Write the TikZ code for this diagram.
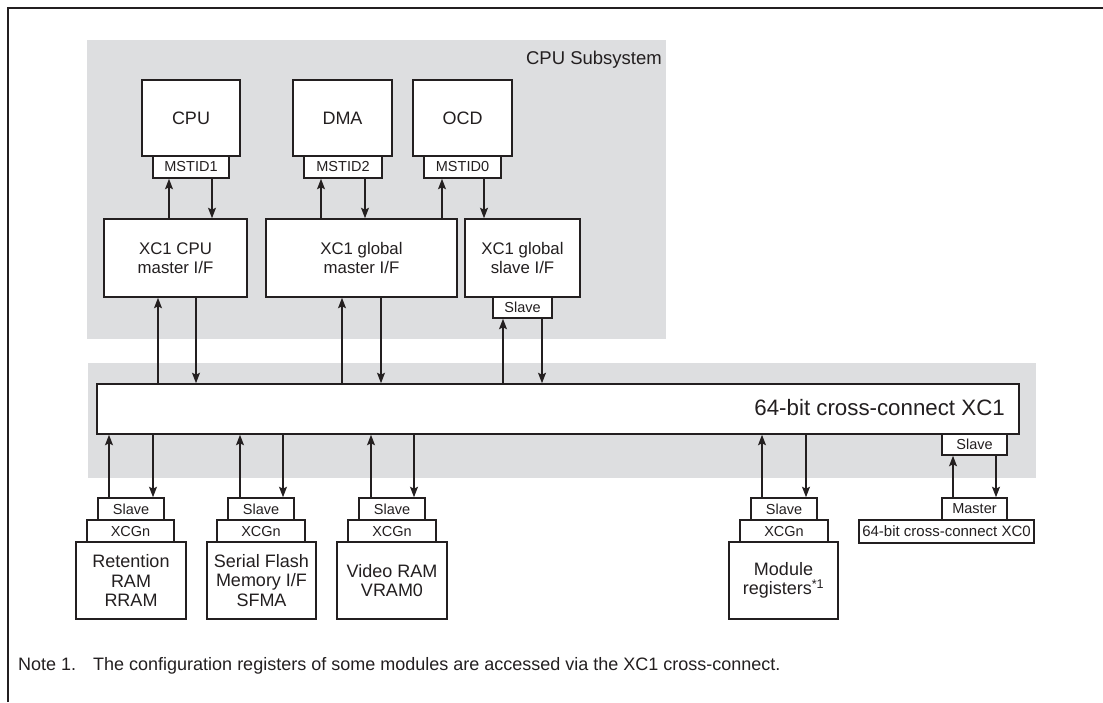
\documentclass[tikz,border=0pt]{standalone}
\usepackage{fontspec}
\setmainfont{Liberation Sans}
\usetikzlibrary{arrows.meta}
\definecolor{grayfill}{HTML}{DDDEE0}
\definecolor{ink}{HTML}{231F20}
\tikzset{
  blk/.style={draw=ink, fill=white, line width=1.6pt, inner sep=0pt, align=center, text=ink},
  big/.style={font=\fontsize{18}{19.5}\selectfont},
  mid/.style={font=\fontsize{16.8}{19}\selectfont},
  tag/.style={font=\fontsize{14.5}{15}\selectfont},
  arr/.style={draw=ink, line width=1.2pt, -{Stealth[length=10.5pt,width=8pt,inset=2pt]}},
  grp/.style={fill=grayfill, draw=none, inner sep=0pt},
  lbl/.style={inner sep=0pt, text=ink},
}
\begin{document}
\begin{tikzpicture}[x=1pt,y=-1pt]
\useasboundingbox (0,0) rectangle (1103,702);
% frame
\draw[ink, line width=2.5pt] (8,702) -- (8,8) -- (1103,8);
% grey groups
\node[grp, minimum width=579pt, minimum height=299pt] (sub) at (376.5,189.5) {};
\node[grp, minimum width=948pt, minimum height=115pt] (busg) at (562,420.5) {};
\node[lbl, anchor=base east, font=\fontsize{18.5}{20}\selectfont] (sublbl) at (662,64.5) {CPU Subsystem};
% masters
\node[blk,big,minimum width=98pt,minimum height=76pt] (cpu) at (191,118) {CPU};
\node[blk,tag,minimum width=76pt,minimum height=22pt] (m1) at (191,167) {MSTID1};
\node[blk,big,minimum width=99pt,minimum height=76pt] (dma) at (342.5,118) {DMA};
\node[blk,tag,minimum width=78pt,minimum height=22pt] (m2) at (343,167) {MSTID2};
\node[blk,big,minimum width=99pt,minimum height=76pt] (ocd) at (462.5,118) {OCD};
\node[blk,tag,minimum width=77pt,minimum height=22pt] (m0) at (462.5,167) {MSTID0};
% interfaces
\node[blk,mid,minimum width=143pt,minimum height=78pt] (cpuif) at (175.5,258) {XC1 CPU\\master I/F};
\node[blk,mid,minimum width=191pt,minimum height=78pt] (gmif) at (361.5,258) {XC1 global\\master I/F};
\node[blk,mid,minimum width=115pt,minimum height=78pt] (gsif) at (522.5,258) {XC1 global\\slave I/F};
\node[blk,tag,minimum width=59pt,minimum height=21pt] (gss) at (522.5,307.5) {Slave};
% bus
\node[blk,minimum width=922pt,minimum height=50pt] (bus) at (558,409) {};
\node[lbl, anchor=base east, font=\fontsize{22.3}{24}\selectfont] (buslbl) at (1005,415) {64-bit cross-connect XC1};
\node[blk,tag,minimum width=65pt,minimum height=21pt] (xs) at (974.5,444.5) {Slave};
% slaves
\node[blk,tag,minimum width=66pt,minimum height=22pt] (rs) at (131,509) {Slave};
\node[blk,tag,minimum width=87pt,minimum height=22pt] (rx) at (130.5,531) {XCGn};
\node[blk,big,minimum width=110pt,minimum height=77pt] (rram) at (131,580.5) {Retention\\RAM\\RRAM};
\node[blk,tag,minimum width=66pt,minimum height=22pt] (ss) at (261,509) {Slave};
\node[blk,tag,minimum width=88pt,minimum height=22pt] (sx) at (261,531) {XCGn};
\node[blk,big,minimum width=109pt,minimum height=77pt] (sfma) at (261.5,580.5) {Serial Flash\\Memory I/F\\SFMA};
\node[blk,tag,minimum width=66pt,minimum height=22pt] (vs) at (392,509) {Slave};
\node[blk,tag,minimum width=88pt,minimum height=22pt] (vx) at (392,531) {XCGn};
\node[blk,big,minimum width=110pt,minimum height=77pt] (vram) at (392,580.5) {Video RAM\\VRAM0};
\node[blk,tag,minimum width=66pt,minimum height=22pt] (ms) at (784,509) {Slave};
\node[blk,tag,minimum width=88pt,minimum height=22pt] (mx) at (784,531) {XCGn};
\node[blk,big,minimum width=109pt,minimum height=77pt] (mod) at (783.5,580.5) {Module\\registers\textsuperscript{*1}};
\node[blk,tag,minimum width=65pt,minimum height=22pt] (xm) at (974.5,509) {Master};
\node[blk,font=\fontsize{15}{16}\selectfont,minimum width=175pt,minimum height=23pt] (xc0) at (946.5,531.5) {64-bit cross-connect XC0};
% note
\node[lbl, anchor=base west, font=\fontsize{18}{19}\selectfont] (n1) at (18,670) {Note 1.};
\node[lbl, anchor=base west, font=\fontsize{18}{19}\selectfont] (n2) at (93,670) {The configuration registers of some modules are accessed via the XC1 cross-connect.};
% arrows top
\draw[arr] (169,0 |- cpuif.north) -- (169,0 |- m1.south);
\draw[arr] (212,0 |- m1.south) -- (212,0 |- cpuif.north);
\draw[arr] (321,0 |- gmif.north) -- (321,0 |- m2.south);
\draw[arr] (365,0 |- m2.south) -- (365,0 |- gmif.north);
\draw[arr] (442,0 |- gmif.north) -- (442,0 |- m0.south);
\draw[arr] (484,0 |- m0.south) -- (484,0 |- gmif.north);
% arrows to bus
\draw[arr] (158,0 |- bus.north) -- (158,0 |- cpuif.south);
\draw[arr] (196,0 |- cpuif.south) -- (196,0 |- bus.north);
\draw[arr] (342,0 |- bus.north) -- (342,0 |- gmif.south);
\draw[arr] (381,0 |- gmif.south) -- (381,0 |- bus.north);
\draw[arr] (503,0 |- bus.north) -- (503,0 |- gss.south);
\draw[arr] (542,0 |- gss.south) -- (542,0 |- bus.north);
% arrows bottom
\draw[arr] (109,0 |- rs.north) -- (109,0 |- bus.south);
\draw[arr] (153,0 |- bus.south) -- (153,0 |- rs.north);
\draw[arr] (240,0 |- ss.north) -- (240,0 |- bus.south);
\draw[arr] (283,0 |- bus.south) -- (283,0 |- ss.north);
\draw[arr] (371,0 |- vs.north) -- (371,0 |- bus.south);
\draw[arr] (414,0 |- bus.south) -- (414,0 |- vs.north);
\draw[arr] (762,0 |- ms.north) -- (762,0 |- bus.south);
\draw[arr] (806,0 |- bus.south) -- (806,0 |- ms.north);
\draw[arr] (953,0 |- xm.north) -- (953,0 |- xs.south);
\draw[arr] (996,0 |- xs.south) -- (996,0 |- xm.north);
\end{tikzpicture}
\end{document}
